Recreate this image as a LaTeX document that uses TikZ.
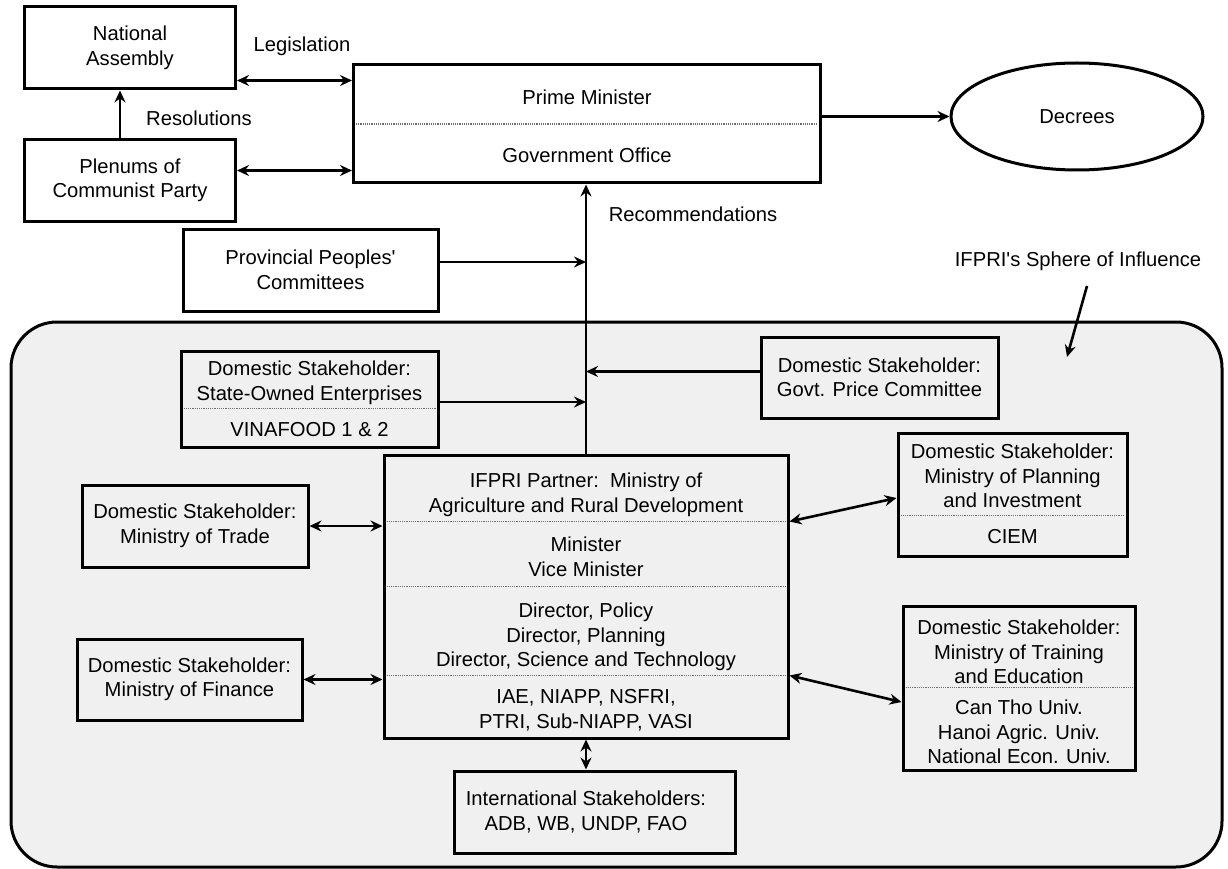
\documentclass[tikz,border=0pt]{standalone}
\usepackage{fontspec}
\setmainfont{Liberation Sans}
\usetikzlibrary{arrows.meta,shapes.geometric,positioning}

\definecolor{sphere}{HTML}{F0F0F0}
\definecolor{dotgray}{HTML}{6E6E6E}

\tikzset{
  every node/.style={font=\fontsize{20.2}{24.5}\selectfont},
  box/.style={draw, line width=3pt, fill=white, align=center, inner sep=0pt},
  ibox/.style={box, fill=sphere},
  part/.style={align=center, inner sep=0pt},
  divider/.style={line width=1.2pt, dotgray, dash pattern=on 1.2pt off 1pt},
  link/.style={line width=2.6pt, -{Stealth[length=12pt,width=11pt,inset=4pt]}},
  both/.style={line width=2.6pt, {Stealth[length=12pt,width=11pt,inset=4pt]}-{Stealth[length=12pt,width=11pt,inset=4pt]}},
}

\begin{document}
\begin{tikzpicture}[x=1pt,y=-1pt]
\useasboundingbox (0,0) rectangle (1228,869);

% IFPRI's sphere
\draw[line width=3pt, fill=sphere, rounded corners=46pt] (11,322) rectangle (1222,867);

% government
\node[box, minimum width=211pt, minimum height=82pt] (nat) at (130,48) {National\\Assembly};
\node[box, minimum width=211pt, minimum height=81pt] (plen) at (130,180.5) {Plenums of\\Communist Party};
\node[box, minimum width=255pt, minimum height=82pt] (prov) at (310.5,270) {Provincial Peoples\textquotesingle\\Committees};
\node[box, minimum width=467pt, minimum height=118pt] (pm) at (587,124) {};
\node[part] (pmA) at (587,97) {Prime Minister};
\node[part] (pmB) at (587,155) {Government Office};
\draw[divider] ([xshift=4pt]pm.west) -- ([xshift=-4pt]pm.east);
\node[box, ellipse, minimum width=252pt, minimum height=107pt] (dec) at (1077,116.5) {Decrees};

\node (leg) at (302,46) {Legislation};
\node (res) at (199,118) {Resolutions};
\node (rec) at (693,214) {Recommendations};
\node (ifp) at (1078,261) {IFPRI\textquotesingle s Sphere of Influence};

% stakeholders
\node[ibox, minimum width=257pt, minimum height=96pt] (soe) at (309.5,399) {};
\node[part] (soeA) at (309.5,383) {Domestic Stakeholder:\\State-Owned Enterprises};
\node[part] (soeB) at (309.5,430) {VINAFOOD 1 \& 2};
\draw[divider] ([shift={(4,59)}]soe.north west) -- ([shift={(-4,59)}]soe.north east);

\node[ibox, minimum width=237pt, minimum height=81pt] (gpc) at (879.5,377.5) {Domestic Stakeholder:\\Govt. Price Committee};
\node[ibox, minimum width=226pt, minimum height=82pt] (trade) at (195,526) {Domestic Stakeholder:\\Ministry of Trade};
\node[ibox, minimum width=225pt, minimum height=81pt] (fin) at (189.5,679.5) {Domestic Stakeholder:\\Ministry of Finance};
\node[ibox, minimum width=281pt, minimum height=82pt] (intl) at (594.5,812) {};
\node[part] (intlA) at (586,812) {International Stakeholders:\\ADB, WB, UNDP, FAO};

\node[ibox, minimum width=229pt, minimum height=123pt] (plan) at (1012.5,494.5) {};
\node[part] (planA) at (1012.5,476) {Domestic Stakeholder:\\Ministry of Planning\\and Investment};
\node[part] (planB) at (1012.5,537) {CIEM};
\draw[divider] ([shift={(4,84)}]plan.north west) -- ([shift={(-4,84)}]plan.north east);

\node[ibox, minimum width=232pt, minimum height=164pt] (train) at (1019,688) {};
\node[part] (trainA) at (1019,652) {Domestic Stakeholder:\\Ministry of Training\\and Education};
\node[part] (trainB) at (1019,732) {Can Tho Univ.\\Hanoi Agric. Univ.\\National Econ. Univ.};
\draw[divider] ([shift={(4,83)}]train.north west) -- ([shift={(-4,83)}]train.north east);

% partner ministry
\node[ibox, minimum width=404pt, minimum height=283pt] (mard) at (586,596.5) {};
\node[part] (mardA) at (586,495) {IFPRI Partner:\ \ Ministry of\\Agriculture and Rural Development};
\node[part] (mardB) at (586,557) {Minister\\Vice Minister};
\node[part] (mardC) at (586,637) {Director, Policy\\Director, Planning\\Director, Science and Technology};
\node[part] (mardD) at (586,710) {IAE, NIAPP, NSFRI,\\PTRI, Sub-NIAPP, VASI};
\draw[divider] ([shift={(4,68)}]mard.north west) -- ([shift={(-4,68)}]mard.north east);
\draw[divider] ([shift={(4,133)}]mard.north west) -- ([shift={(-4,133)}]mard.north east);
\draw[divider] ([shift={(4,222)}]mard.north west) -- ([shift={(-4,222)}]mard.north east);

% connectors
\coordinate (na) at ([yshift=10pt]nat.south east);
\draw[both] (na) -- (na -| pm.west);
\coordinate (pa) at ([yshift=10pt]plen.east);
\draw[both] (pa) -- (pa -| pm.west);
\coordinate (rs) at ([xshift=-10pt]plen.north);
\draw[link] (rs) -- (rs |- nat.south);
\draw[link] (pm.east |- dec.west) -- (dec.west);

\draw[link] (mard.north) -- (mard.north |- pm.south);
\coordinate (pv) at ([yshift=8pt]prov.east);
\draw[link] (pv) -- (pv -| mard.north);
\coordinate (gp) at ([yshift=6pt]gpc.west);
\draw[link] (gp) -- (gp -| mard.north);
\coordinate (se) at ([yshift=-3pt]soe.east);
\draw[link] (se) -- (se -| mard.north);

\draw[both] (trade.east) -- (trade.east -| mard.west);
\draw[both] (fin.east) -- (fin.east -| mard.west);
\draw[both] ([yshift=-68pt]mard.north east) -- ([yshift=-3.5pt]plan.west);
\draw[both] ([yshift=-222pt]mard.north east) -- ([yshift=-14pt]train.west);
\draw[both] (mard.south) -- (mard.south |- intl.north);

\coordinate (sp) at (1067,357);
\draw[link] ([shift={(9,12)}]ifp.south) -- (sp);
\end{tikzpicture}
\end{document}
